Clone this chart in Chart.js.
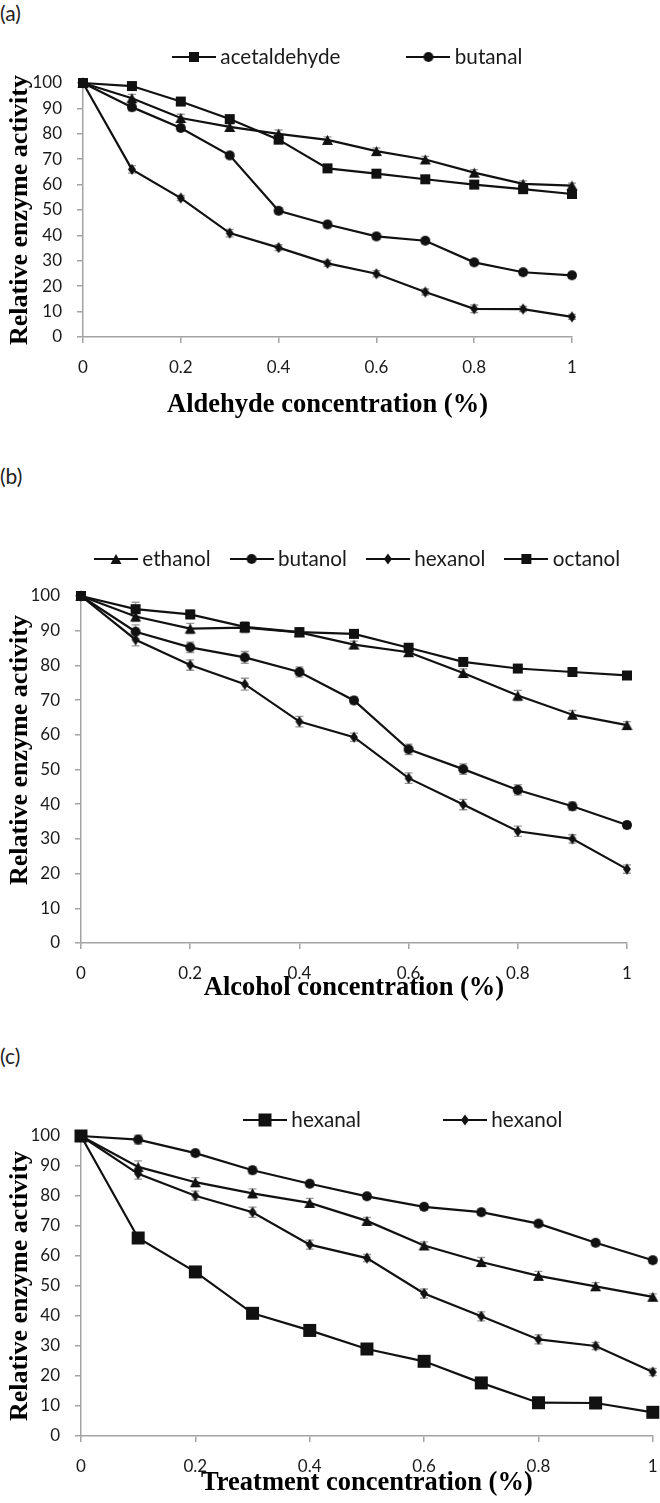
<!DOCTYPE html>
<html>
<head>
  <meta charset="utf-8">
  <title>Relative enzyme activity</title>
  <script src="https://cdn.jsdelivr.net/npm/chart.js"></script>
  <style>
    body { margin: 0; background: #fff; width: 660px; height: 1503px; position: relative; overflow: hidden; font-family: Lato, sans-serif; }
    .panel { position: absolute; left: 0; width: 660px; }
    .tag { position: absolute; left: 0; font-size: 21px; line-height: 22px; color: #222; }
  </style>
</head>
<body>
  <div class="tag" style="top:2px">(a)</div>
  <div class="tag" style="top:465px">(b)</div>
  <div class="tag" style="top:1045px">(c)</div>

  <div class="panel" style="top:0;height:430px"><canvas id="chartA"></canvas></div>
  <div class="panel" style="top:440px;height:570px"><canvas id="chartB"></canvas></div>
  <div class="panel" style="top:1020px;height:483px"><canvas id="chartC"></canvas></div>

  <script>
    // concentrations (%)
    const conc = [0, 0.1, 0.2, 0.3, 0.4, 0.5, 0.6, 0.7, 0.8, 0.9, 1];

    // (a) aldehydes
    const acetaldehyde = [100, 98.8, 92.7, 85.8, 77.7, 66.4, 64.3, 62.1, 60, 58.2, 56.3];
    const propanal     = [100, 94, 86.2, 82.7, 80, 77.6, 73.2, 69.9, 64.7, 60.3, 59.6];
    const butanal      = [100, 90.5, 82.3, 71.5, 49.7, 44.3, 39.6, 37.9, 29.4, 25.5, 24.3];
    const hexanal      = [100, 66, 54.7, 40.9, 35.2, 29, 24.9, 17.7, 11.1, 11, 7.9];

    // (b) alcohols
    const ethanol = [100, 94.1, 90.6, 90.9, 89.5, 86, 83.8, 77.8, 71.3, 65.8, 62.8];
    const butanol = [100, 89.7, 85.2, 82.3, 78.1, 69.9, 55.8, 50.1, 44.1, 39.4, 34];
    const hexanol = [100, 87.4, 80.1, 74.6, 63.8, 59.3, 47.5, 39.9, 32.2, 30, 21.3];
    const octanol = [100, 96.2, 94.7, 91.1, 89.6, 89.1, 85.1, 81, 79.1, 78.1, 77.1];

    // (c) treatments not named in the legend
    const treatC1 = [100, 98.8, 94.3, 88.6, 84.1, 79.9, 76.4, 74.6, 70.8, 64.4, 58.6];
    const treatC2 = [100, 89.7, 84.6, 80.9, 77.7, 71.7, 63.5, 58, 53.4, 49.9, 46.4];

    // error bars (+/-)
    const errAcetaldehyde = [0, 1, 1, 1.2, 1, 1, 1, 1, 1, 1, 1];
    const errPropanal     = [0, 1.5, 1.5, 1.2, 1.5, 1.2, 1.2, 1.2, 1.2, 1.2, 1];
    const errButanal      = [0, 1.5, 1.2, 1, 1.2, 1.2, 1.2, 1, 1, 1, 1];
    const errHexanal      = [0, 1.5, 1, 1.5, 1.2, 1.2, 1.2, 1.2, 1.5, 1, 1];
    const errEthanol      = [0, 1.5, 1.5, 1.5, 1.2, 1, 1, 1.2, 1.5, 1.2, 1];
    const errButanol      = [0, 2, 1.5, 1.7, 1.5, 1, 1.5, 1.5, 1.5, 1.2, 1];
    const errHexanol      = [0, 1.8, 1.5, 1.7, 1.5, 1.2, 1.5, 1.5, 1.5, 1.2, 1.2];
    const errOctanol      = [0, 2, 1.2, 1.5, 1.2, 1, 1, 1, 1, 1, 1];
    const errTreatC1      = [0, 1.5, 1, 1.2, 1, 1, 1, 1, 1, 1, 1];
    const errTreatC2      = [0, 2, 1.5, 1.5, 1.5, 1.2, 1.2, 1.5, 1.5, 1.2, 1];

    const xTicks = [0, 0.2, 0.4, 0.6, 0.8, 1];

    const SANS = 'Lato';
    const SERIF = '"Liberation Serif"';
    const INK = '#111';
    const AXIS = '#a3a3a3';
    const LEGEND_FS = 20.7;
    const ICON_LEN = 44;
    const BOX = 32;   // legend text starts ~4px after the icon line

    // marker shapes
    const SQ  = { shape: 'square', w: 10, h: 10 };
    const SQL = { shape: 'square', w: 13, h: 13 };
    const CI  = { shape: 'circle', w: 10, h: 10 };
    const TR  = { shape: 'triangle', w: 11, h: 10 };
    const DI  = { shape: 'diamond', w: 8, h: 11 };

    function drawMarker(g, m, cx, cy) {
      const hw = m.w / 2, hh = m.h / 2;
      g.fillStyle = INK;
      g.beginPath();
      if (m.shape === 'square') g.rect(cx - hw, cy - hh, m.w, m.h);
      else if (m.shape === 'circle') g.ellipse(cx, cy, hw, hh, 0, 0, Math.PI * 2);
      else if (m.shape === 'triangle') { g.moveTo(cx, cy - hh); g.lineTo(cx + hw, cy + hh); g.lineTo(cx - hw, cy + hh); g.closePath(); }
      else { g.moveTo(cx, cy - hh); g.lineTo(cx + hw, cy); g.lineTo(cx, cy + hh); g.lineTo(cx - hw, cy); g.closePath(); }
      g.fill();
    }

    function markerImage(m) {
      const c = document.createElement('canvas');
      c.width = m.w + 2; c.height = m.h + 2;
      drawMarker(c.getContext('2d'), m, c.width / 2, c.height / 2);
      return c;
    }

    function legendImage(m) {
      const c = document.createElement('canvas');
      c.width = ICON_LEN; c.height = 2 * Math.ceil((m.h + 4) / 2);
      const g = c.getContext('2d');
      g.strokeStyle = INK; g.lineWidth = 2;
      g.beginPath(); g.moveTo(0, c.height / 2); g.lineTo(ICON_LEN, c.height / 2); g.stroke();
      drawMarker(g, m, ICON_LEN / 2, c.height / 2);
      return c;
    }

    function series(label, values, errors, marker, inLegend) {
      return {
        label,
        data: conc.map((x, i) => ({ x, y: values[i] })),
        errors,
        inLegend,
        legendIcon: legendImage(marker),
        pointStyle: markerImage(marker),
        pointRadius: 5,
        borderColor: INK,
        borderWidth: 2.2,
        tension: 0,
        clip: false
      };
    }

    // moves the legend so its first icon starts at x and its text centre is at y
    const legendPlace = {
      id: 'legendPlace',
      afterLayout(chart, args, opts) {
        const lg = chart.legend;
        if (!lg || opts.x == null) return;
        const p = opts.gap;
        const cx = (lg.left + p + lg.right - lg.lineWidths[0]) / 2;
        const dx = opts.x - (cx + BOX / 2 - ICON_LEN / 2);
        const dy = opts.y - (lg.top + p + LEGEND_FS / 2);
        lg.left += dx; lg.right += dx; lg.top += dy; lg.bottom += dy;
      }
    };

    const errorBars = {
      id: 'errorBars',
      beforeDatasetsDraw(chart) {
        const { ctx, scales: { x, y } } = chart;
        ctx.save();
        ctx.strokeStyle = '#9a9a9a';
        ctx.lineWidth = 1.3;
        chart.data.datasets.forEach(ds => {
          ds.data.forEach((pt, i) => {
            const e = ds.errors[i];
            if (!e) return;
            const px = x.getPixelForValue(pt.x);
            const top = y.getPixelForValue(pt.y + e);
            const bot = y.getPixelForValue(pt.y - e);
            ctx.beginPath();
            ctx.moveTo(px, top); ctx.lineTo(px, bot);
            ctx.moveTo(px - 4, top); ctx.lineTo(px + 4, top);
            ctx.moveTo(px - 4, bot); ctx.lineTo(px + 4, bot);
            ctx.stroke();
          });
        });
        ctx.restore();
      }
    };

    function makeChart(id, datasets, L) {
      const gridOpts = { drawOnChartArea: false, drawTicks: true, tickLength: 6, color: AXIS, lineWidth: 1.5 };
      return new Chart(document.getElementById(id), {
        type: 'line',
        data: { datasets },
        options: {
          responsive: true,
          maintainAspectRatio: false,
          animation: false,
          events: [],
          layout: { padding: { left: 0, right: L.padRight, top: L.chartTop - LEGEND_FS - L.gap - 10, bottom: 0 } },
          plugins: {
            legend: {
              position: 'top',
              labels: {
                usePointStyle: true,
                pointStyleWidth: BOX,
                padding: L.gap,
                color: '#1a1a1a',
                font: { family: SANS, size: LEGEND_FS, lineHeight: 1 },
                generateLabels: chart => chart.data.datasets
                  .map((ds, i) => ({ text: ds.label, pointStyle: ds.legendIcon, datasetIndex: i,
                                     fillStyle: INK, strokeStyle: INK, lineWidth: 0, hidden: false, fontColor: '#1a1a1a' }))
                  .filter(item => chart.data.datasets[item.datasetIndex].inLegend)
              }
            },
            tooltip: { enabled: false },
            legendPlace: { x: L.legendX, y: L.legendY, gap: L.gap }
          },
          scales: {
            x: {
              type: 'linear', min: 0, max: 1,
              afterFit: s => { s.height = L.xAxisH; s.paddingLeft = 0; s.paddingRight = 0; },
              afterBuildTicks: s => { s.ticks = xTicks.map(v => ({ value: v })); },
              border: { color: AXIS, width: 1.5 },
              grid: gridOpts,
              ticks: { color: '#1a1a1a', padding: 14, maxRotation: 0, autoSkip: false,
                       font: { family: SANS, size: 17 }, callback: v => String(Math.round(v * 10) / 10) },
              title: { display: true, text: L.xTitle, color: '#000', padding: { top: 0, bottom: L.xTitlePad },
                       font: { family: SERIF, size: 26.5, weight: 'bold', lineHeight: 1 } }
            },
            y: {
              min: 0, max: 100,
              afterFit: s => { s.width = L.chartLeft; },
              border: { color: AXIS, width: 1.5 },
              grid: gridOpts,
              ticks: { stepSize: 10, color: '#1a1a1a', padding: 15, autoSkip: false, font: { family: SANS, size: 17 } },
              title: { display: true, text: L.yTitle, color: '#000', padding: { top: 7, bottom: 0 },
                       font: { family: SERIF, size: 26, weight: 'bold', lineHeight: 1 } }
            }
          }
        },
        plugins: [legendPlace, errorBars]
      });
    }

    makeChart('chartA', [
      series('acetaldehyde', acetaldehyde, errAcetaldehyde, SQ, true),
      series('butanal', butanal, errButanal, CI, true),
      series('propanal', propanal, errPropanal, TR, false),
      series('hexanal', hexanal, errHexanal, DI, false)
    ], { chartLeft: 83, padRight: 88, chartTop: 83, xAxisH: 93, xTitlePad: 12, gap: 72, legendX: 172, legendY: 57,
         xTitle: 'Aldehyde concentration (%)', yTitle: 'Relative enzyme activity' });

    makeChart('chartB', [
      series('ethanol', ethanol, errEthanol, TR, true),
      series('butanol', butanol, errButanol, CI, true),
      series('hexanol', hexanol, errHexanol, DI, true),
      series('octanol', octanol, errOctanol, SQ, true)
    ], { chartLeft: 81, padRight: 33, chartTop: 156, xAxisH: 67, xTitlePad: 9, gap: 25, legendX: 94, legendY: 119,
         xTitle: 'Alcohol concentration (%)', yTitle: '      Relative enzyme activity' });

    makeChart('chartC', [
      series('hexanal', hexanal, errHexanal, SQL, true),
      series('hexanol', hexanol, errHexanol, DI, true),
      series('treatment 3', treatC1, errTreatC1, CI, false),
      series('treatment 4', treatC2, errTreatC2, TR, false)
    ], { chartLeft: 81, padRight: 6, chartTop: 116, xAxisH: 67, xTitlePad: 7, gap: 88, legendX: 243, legendY: 100,
         xTitle: 'Treatment concentration (%)', yTitle: 'Relative enzyme activity' });
  </script>
</body>
</html>
